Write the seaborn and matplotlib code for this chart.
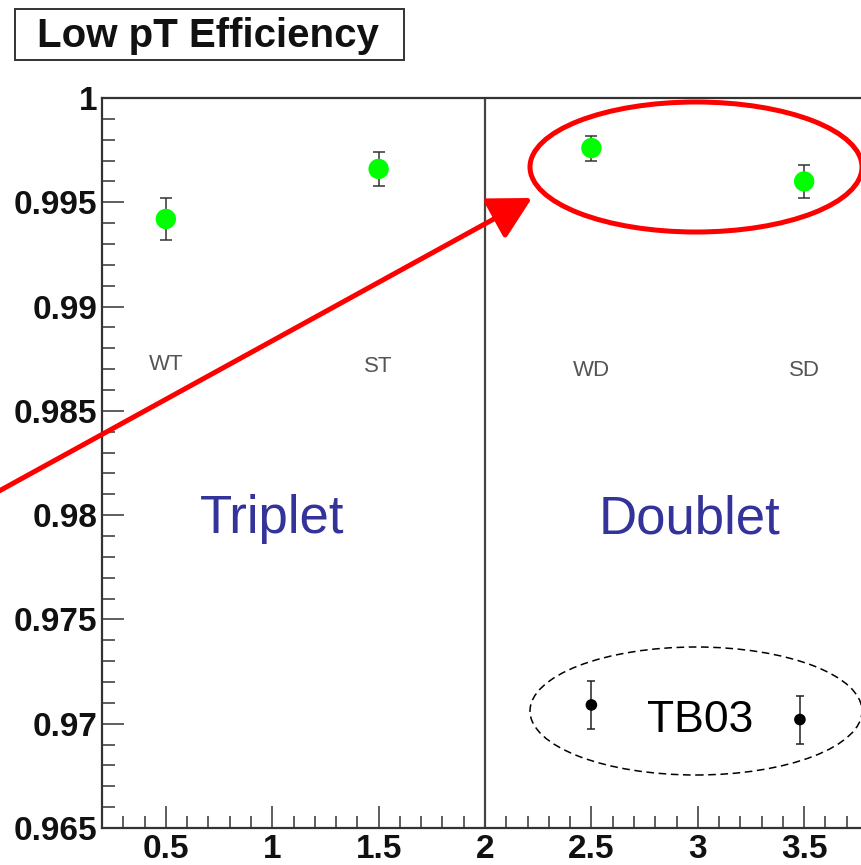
import numpy as np
import pandas as pd
import matplotlib
matplotlib.use("Agg")
import matplotlib.pyplot as plt
import seaborn as sns
from matplotlib.patches import Ellipse, Rectangle, FancyArrowPatch
from matplotlib.ticker import FixedLocator, FixedFormatter, MultipleLocator

# ---------------- data ----------------
categories = ["WT", "ST", "WD", "SD"]
cat_x = [0.5, 1.5, 2.5, 3.5]
eff_new = [0.9942, 0.9966, 0.9976, 0.9960]
err_new = [0.0010, 0.0008, 0.0006, 0.0008]

tb03_x = [2.5, 3.48]
tb03_eff = [0.9709, 0.9702]
tb03_err = [0.00115, 0.00115]

xtick_vals = [0.5, 1.0, 1.5, 2.0, 2.5, 3.0, 3.5]
xtick_labels = ["0.5", "1", "1.5", "2", "2.5", "3", "3.5"]
ytick_vals = [0.965, 0.970, 0.975, 0.980, 0.985, 0.990, 0.995, 1.000]
ytick_labels = ["0.965", "0.97", "0.975", "0.98", "0.985", "0.99", "0.995", "1"]

title_text = "Low pT Efficiency"
group_labels = ["Triplet", "Doublet"]
group_x = [1.0, 2.96]
tb_label = "TB03"

# ---------------- figure ----------------
sns.set_style("ticks")
plt.rcParams["font.family"] = ["Liberation Sans", "DejaVu Sans"]

W, H = 862, 865
fig = plt.figure(figsize=(W / 100, H / 100), dpi=100)

def fx(px):
    return px / W

def fy(py):
    return 1 - py / H

ax_left, ax_right, ax_top, ax_bot = 102, 868, 98, 828
ax = fig.add_axes([fx(ax_left), fy(ax_bot), fx(ax_right - ax_left), (ax_bot - ax_top) / H])
ax.set_xlim(0.2, 3.8)
ax.set_ylim(0.965, 1.0)

df_new = pd.DataFrame({"x": cat_x, "eff": eff_new, "err": err_new, "cat": categories})
df_tb = pd.DataFrame({"x": tb03_x, "eff": tb03_eff, "err": tb03_err})

# error bars
ax.errorbar(df_new["x"], df_new["eff"], yerr=df_new["err"], fmt="none",
            ecolor="#333333", elinewidth=1.1, capsize=4, capthick=1.1, zorder=3)
ax.errorbar(df_tb["x"], df_tb["eff"], yerr=df_tb["err"], fmt="none",
            ecolor="#222222", elinewidth=1.1, capsize=3, capthick=1.1, zorder=3)

sns.scatterplot(data=df_new, x="x", y="eff", ax=ax, color="#00ff00", s=215,
                edgecolor="none", linewidth=0, zorder=4, legend=False)
sns.scatterplot(data=df_tb, x="x", y="eff", ax=ax, color="black", s=70,
                edgecolor="none", linewidth=0, zorder=4, legend=False)

# vertical separator
ax.axvline(2.0, color="#444444", lw=1.6, zorder=2)

# category labels
cat_y = [0.98720, 0.98712, 0.98695, 0.98695]
for c, x, y in zip(categories, cat_x, cat_y):
    ax.text(x, y, c, ha="center", va="center", fontsize=16, color="#555555")

# axes styling
ax.set_xlabel("")
ax.set_ylabel("")
for s in ["left", "bottom", "top"]:
    ax.spines[s].set_color("#333333")
    ax.spines[s].set_linewidth(1.6)
ax.spines["right"].set_visible(False)

ax.xaxis.set_major_locator(FixedLocator(xtick_vals))
ax.xaxis.set_major_formatter(FixedFormatter(xtick_labels))
ax.xaxis.set_minor_locator(MultipleLocator(0.1))
ax.yaxis.set_major_locator(FixedLocator(ytick_vals))
ax.yaxis.set_major_formatter(FixedFormatter(ytick_labels))
ax.yaxis.set_minor_locator(MultipleLocator(0.001))

ax.tick_params(which="both", direction="in", color="#333333", width=1.1,
               top=False, right=False)
ax.tick_params(which="major", length=16)
ax.tick_params(which="minor", length=9)
ax.tick_params(axis="y", which="major", pad=3.5)
ax.tick_params(axis="x", which="major", pad=4)
for lab in ax.get_xticklabels() + ax.get_yticklabels():
    lab.set_fontweight("bold")
    lab.set_fontsize(24)
    lab.set_color("#111111")

# group labels
for g, x in zip(group_labels, group_x):
    ax.text(x, 0.9798, g, ha="center", va="center", fontsize=38, color="#333399")

# title box
fig.patches.append(Rectangle((fx(15), fy(60)), fx(404 - 15), (60 - 9) / H,
                             transform=fig.transFigure, fill=False,
                             edgecolor="#333333", lw=1.4))
fig.text(fx(208), fy(36), title_text, ha="center", va="center",
         fontsize=29, fontweight="bold", color="#111111")

# red ellipse
fig.patches.append(Ellipse((fx(696), fy(167)), 2 * 166 / W, 2 * 65 / H,
                           transform=fig.transFigure, fill=False,
                           edgecolor="#ff0000", lw=3.6, zorder=5))
# dashed ellipse
fig.patches.append(Ellipse((fx(696), fy(711)), 2 * 166 / W, 2 * 64 / H,
                           transform=fig.transFigure, fill=False,
                           edgecolor="black", lw=1.1, linestyle=(0, (5, 3)), zorder=5))
fig.text(fx(700), fy(720), tb_label, ha="center", va="center", fontsize=32, color="black")

# red arrow
arrow = FancyArrowPatch((fx(-10), fy(496)), (fx(532), fy(198)),
                        transform=fig.transFigure,
                        arrowstyle="-|>,head_length=26,head_width=14",
                        mutation_scale=1, color="#ff0000", lw=3.6,
                        shrinkA=0, shrinkB=0, zorder=6)
fig.patches.append(arrow)

fig.savefig("out.png", dpi=100)
